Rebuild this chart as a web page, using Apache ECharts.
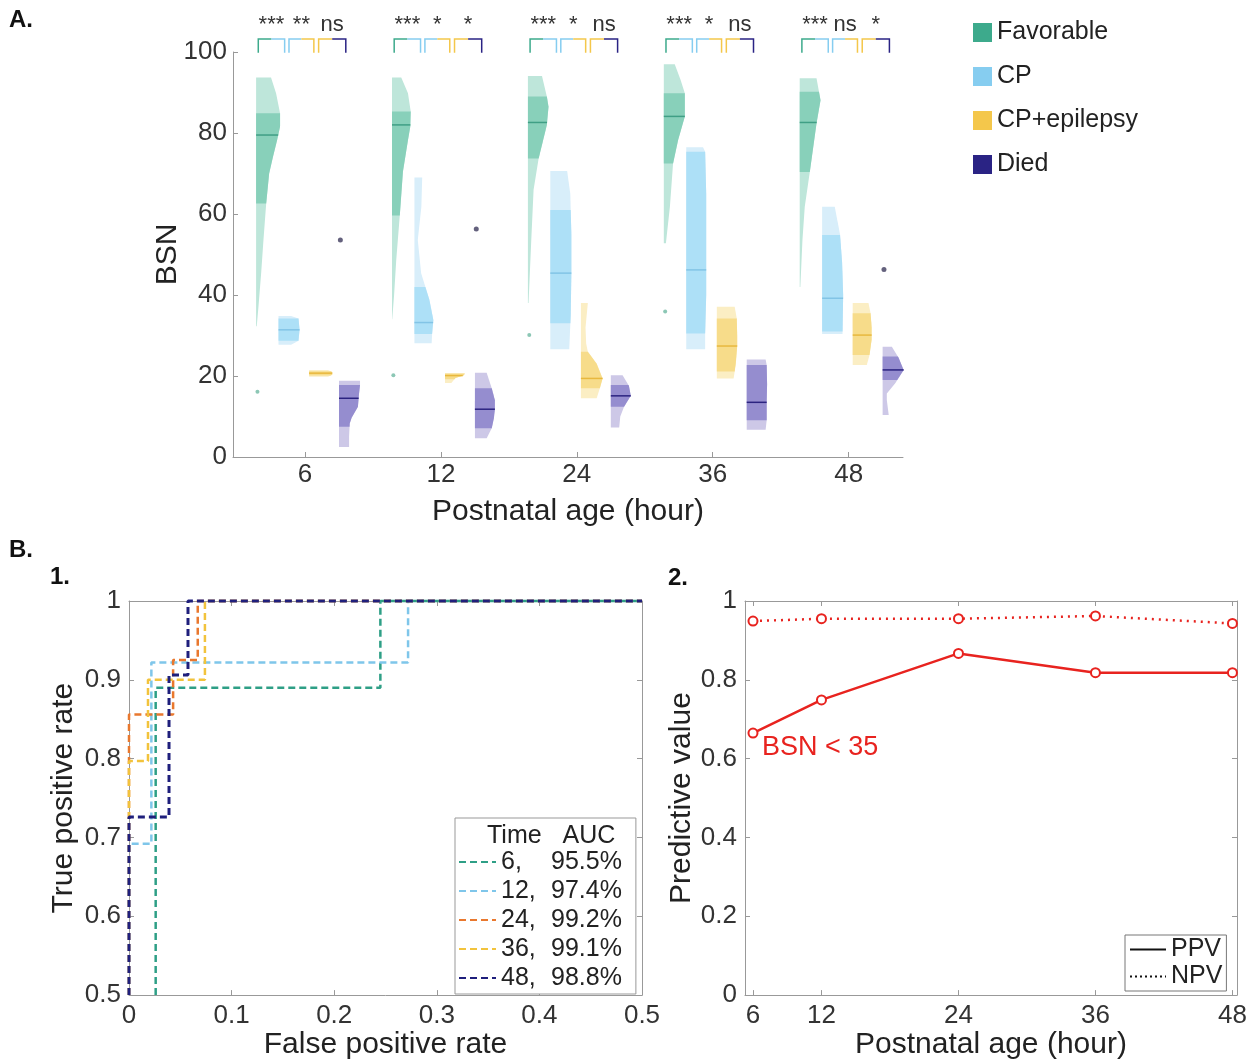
<!DOCTYPE html>
<html>
<head>
<meta charset="utf-8">
<script src="https://cdn.jsdelivr.net/npm/echarts@6/dist/echarts.min.js"></script>
<style>
html, body { margin: 0; padding: 0; background: #fff; }
#main { width: 1256px; height: 1061px; }
</style>
</head>
<body>
<div id="main"></div>
<script>
// ---- data ----
var hours = [6, 12, 24, 36, 48];
var groupNames = ['Favorable', 'CP', 'CP+epilepsy', 'Died'];

// [q1, median, q3] per postnatal age
var favBox  = [[62.6, 79.5, 84.9], [59.6, 82.0, 85.3], [73.7, 82.6, 89.0], [72.5, 84.1, 89.8], [70.4, 82.6, 90.2]];
var cpBox   = [[28.7, 31.4, 34.2], [30.4, 33.2, 42.0], [33.0, 45.4, 61.0], [30.5, 46.2, 75.4], [31.0, 39.2, 54.8]];
var cpeBox  = [[20.1, 20.7, 21.2], [19.2, 20.1, 20.6], [17.0, 19.4, 26.0], [21.1, 27.4, 34.2], [25.2, 30.1, 35.5]];
var diedBox = [[7.5, 14.5, 17.8], [7.1, 11.8, 17.0], [12.4, 15.1, 17.8], [9.1, 13.5, 22.7], [19.0, 21.5, 24.8]];

// half-violin outline, [BSN, relative density], top to bottom
var favShape = [
  [[93.7, 0.71], [89.8, 0.95], [84.9, 1.14], [81.6, 1.14], [78.3, 1.0], [74.1, 0.8], [70, 0.62], [62.6, 0.48], [53.6, 0.35], [45.4, 0.24], [37, 0.11], [32.3, 0.03]],
  [[93.7, 0.44], [89.8, 0.76], [85.3, 0.89], [81.6, 0.87], [78.3, 0.76], [70.5, 0.52], [59.6, 0.37], [48.5, 0.2], [40, 0.1], [34, 0.01]],
  [[94.1, 0.67], [89, 0.9], [86.5, 0.98], [82, 0.9], [73.7, 0.51], [66, 0.27], [53.6, 0.16], [38, 0.03]],
  [[97, 0.52], [93.1, 0.8], [89.8, 1.0], [84.1, 1.0], [78.3, 0.68], [72.5, 0.44], [61.8, 0.29], [52.8, 0.1]],
  [[93.5, 0.8], [88.1, 0.99], [82.4, 0.8], [70.4, 0.48], [61.8, 0.24], [53.6, 0.13], [42, 0.03]]
];
var cpShape = [
  [[34.8, 0.6], [34.2, 0.95], [31.4, 1.0], [28.7, 0.95], [27.7, 0.6]],
  [[69, 0.37], [61.8, 0.33], [53.6, 0.16], [45.4, 0.32], [38.8, 0.71], [33.8, 0.9], [30.4, 0.84], [28.1, 0.82]],
  [[70.6, 0.8], [65, 0.95], [55, 1.0], [45, 1.0], [35, 0.97], [26.6, 0.9]],
  [[76.5, 0.8], [75.4, 0.9], [65, 0.95], [50, 0.95], [40, 0.95], [30.5, 0.9], [26.6, 0.9]],
  [[61.8, 0.6], [55, 0.85], [48, 0.95], [40, 1.0], [30.4, 0.97]]
];
var cpeShape = [
  [[21.5, 0.9], [21, 1.1], [20.3, 1.1], [19.8, 0.9]],
  [[20.7, 0.95], [20.2, 0.9], [19.5, 0.5], [18.3, 0.3]],
  [[38, 0.33], [32, 0.22], [28, 0.25], [26, 0.33], [23, 0.75], [19.4, 1.03], [17, 0.9], [14.5, 0.75]],
  [[37.1, 0.85], [34.2, 0.95], [30, 0.97], [27.4, 0.97], [23, 0.9], [21.1, 0.85], [19.4, 0.8]],
  [[38, 0.75], [35.5, 0.85], [32, 0.9], [29, 0.9], [25.2, 0.8], [22.7, 0.67]]
];
var diedShape = [
  [[18.8, 1.0], [17.8, 1.0], [15.5, 0.95], [12.4, 0.9], [9.7, 0.6], [8.3, 0.51], [5, 0.48], [2.5, 0.48]],
  [[20.8, 0.56], [17, 0.8], [14, 0.95], [11.8, 0.95], [9.5, 0.9], [7.1, 0.8], [4.6, 0.56]],
  [[20.2, 0.56], [17.6, 0.86], [15.1, 0.95], [12.4, 0.63], [10, 0.45], [7.3, 0.4]],
  [[24.1, 0.9], [22.7, 0.95], [18, 0.97], [13.5, 0.95], [9.1, 0.95], [6.7, 0.9]],
  [[27.2, 0.44], [24.5, 0.76], [21.5, 1.0], [18.2, 0.6], [15.7, 0.2], [14.1, 0.2], [10.4, 0.29]]
];

// outliers: [age index, BSN]
var favOut = [[0, 16.1], [1, 20.2], [2, 30.1], [3, 35.9]];
var diedOut = [[0, 53.6], [1, 56.3], [4, 46.3]];

// Fav-CP, CP-CP+epilepsy, CP+epilepsy-Died
var sigLabels = [['***', '**', 'ns'], ['***', '*', '*'], ['***', '*', 'ns'], ['***', '*', 'ns'], ['***', 'ns', '*']];

// ROC curves [FPR, TPR]
var rocNames = ['6', '12', '24', '36', '48'];
var aucLabels = ['95.5%', '97.4%', '99.2%', '99.1%', '98.8%'];
var roc6  = [[0.026, 0.5], [0.026, 0.89], [0.245, 0.89], [0.245, 1], [0.5, 1]];
var roc12 = [[0, 0.5], [0, 0.692], [0.0218, 0.692], [0.0218, 0.922], [0.272, 0.922], [0.272, 1], [0.5, 1]];
var roc24 = [[0, 0.5], [0, 0.856], [0.043, 0.856], [0.043, 0.925], [0.067, 0.925], [0.067, 1], [0.5, 1]];
var roc36 = [[0, 0.5], [0, 0.797], [0.0185, 0.797], [0.0185, 0.9], [0.074, 0.9], [0.074, 1], [0.5, 1]];
var roc48 = [[0, 0.5], [0, 0.726], [0.039, 0.726], [0.039, 0.906], [0.0575, 0.906], [0.0575, 1], [0.5, 1]];

var ppv = [0.665, 0.749, 0.867, 0.818, 0.818];
var npv = [0.949, 0.955, 0.955, 0.962, 0.943];

// ---- style ----
var FONT = '"Liberation Sans", Arial, sans-serif';
var groupColor = ['#3daa8c', '#86cdf0', '#f4c74b', '#2a2384'];
var lightFill = ['#bee6da', '#d8eefa', '#fbeec4', '#cdc8e7'];
var darkFill = ['#88d0ba', '#ade0f7', '#f7dc8a', '#958dcf'];
var medianCol = ['#3f9f85', '#82c4e6', '#e8b83e', '#2b2380'];
var baseOff = [-0.36, -0.195, 0.03, 0.25];
var VW = 21 / 135.8;
var bracketOff = [[-0.344, -0.15], [-0.118, 0.065], [0.10, 0.30]];
var rocColor = ['#2e9f86', '#7fc6ea', '#e9782e', '#f2c33c', '#1f1f7c'];
var RED = '#e8231f';

var boxes = [favBox, cpBox, cpeBox, diedBox];
var shapes = [favShape, cpShape, cpeShape, diedShape];

function widthAt(shape, v) {
  if (v >= shape[0][0]) return shape[0][1];
  for (var i = 0; i < shape.length - 1; i++) {
    var a = shape[i], b = shape[i + 1];
    if (v <= a[0] && v >= b[0]) {
      return a[1] + (b[1] - a[1]) * (a[0] - v) / (a[0] - b[0]);
    }
  }
  return shape[shape.length - 1][1];
}

function violin(gi) {
  return function (params, api) {
    var t = params.dataIndex;
    var shape = shapes[gi][t], box = boxes[gi][t];
    var b = t + baseOff[gi];
    function pt(v, w) { return api.coord([b + w * VW, v]); }
    var outer = [pt(shape[0][0], 0)];
    shape.forEach(function (p) { outer.push(pt(p[0], p[1])); });
    outer.push(pt(shape[shape.length - 1][0], 0));
    var inner = [pt(box[2], 0), pt(box[2], widthAt(shape, box[2]))];
    shape.forEach(function (p) { if (p[0] < box[2] && p[0] > box[0]) inner.push(pt(p[0], p[1])); });
    inner.push(pt(box[0], widthAt(shape, box[0])), pt(box[0], 0));
    var m0 = pt(box[1], 0), m1 = pt(box[1], widthAt(shape, box[1]));
    return {
      type: 'group',
      children: [
        { type: 'polygon', shape: { points: outer }, style: { fill: lightFill[gi] } },
        { type: 'polygon', shape: { points: inner }, style: { fill: darkFill[gi] } },
        { type: 'line', shape: { x1: m0[0], y1: m0[1], x2: m1[0], y2: m1[1] }, style: { stroke: medianCol[gi], lineWidth: 1.5 } }
      ]
    };
  };
}

function sigBracket(params, api) {
  var t = api.value(0), k = api.value(1);
  var o = bracketOff[k];
  var L = api.coord([t + o[0], 99.8]), LT = api.coord([t + o[0], 103.2]);
  var R = api.coord([t + o[1], 99.8]), RT = api.coord([t + o[1], 103.2]);
  var mid = (LT[0] + RT[0]) / 2;
  return {
    type: 'group',
    children: [
      { type: 'polyline', shape: { points: [L, LT, [mid, LT[1]]] }, style: { stroke: groupColor[k], lineWidth: 1.5, fill: null } },
      { type: 'polyline', shape: { points: [[mid, RT[1]], RT, R] }, style: { stroke: groupColor[k + 1], lineWidth: 1.5, fill: null } },
      { type: 'text', x: mid, y: LT[1] - 3, style: { text: sigLabels[t][k], textAlign: 'center', textVerticalAlign: 'bottom', fontSize: 22, fontFamily: FONT, fill: '#333' } }
    ]
  };
}

var series = [];
groupNames.forEach(function (name, gi) {
  series.push({
    name: name, type: 'custom', xAxisIndex: 0, yAxisIndex: 0,
    itemStyle: { color: groupColor[gi] },
    renderItem: violin(gi),
    encode: { x: 0, y: 1 },
    data: hours.map(function (h, i) { return [i, boxes[gi][i][1]]; })
  });
});
var sigData = [];
sigLabels.forEach(function (row, t) { row.forEach(function (s, k) { sigData.push([t, k]); }); });
series.push({
  name: 'sig', type: 'custom', xAxisIndex: 0, yAxisIndex: 0, renderItem: sigBracket,
  encode: { x: 0, y: 1 }, data: sigData, silent: true
});
series.push({
  name: 'favOut', type: 'scatter', xAxisIndex: 0, yAxisIndex: 0, symbolSize: 4,
  itemStyle: { color: '#6fb9a3' },
  data: favOut.map(function (d) { return [d[0] + baseOff[0] + 0.01, d[1]]; })
});
series.push({
  name: 'diedOut', type: 'scatter', xAxisIndex: 0, yAxisIndex: 0, symbolSize: 5,
  itemStyle: { color: '#3d3a5c' },
  data: diedOut.map(function (d) { return [d[0] + baseOff[3] + 0.01, d[1]]; })
});

[roc6, roc12, roc24, roc36, roc48].forEach(function (d, i) {
  series.push({
    name: rocNames[i], type: 'line', xAxisIndex: 1, yAxisIndex: 1, data: d,
    symbol: 'none', clip: false,
    lineStyle: { color: rocColor[i], width: i === 4 ? 3 : 2.5, type: [7, 4] },
    itemStyle: { color: rocColor[i] }
  });
});

series.push({
  name: 'PPV', type: 'line', xAxisIndex: 3, yAxisIndex: 3, clip: false,
  data: hours.map(function (h, i) { return [h, ppv[i]]; }),
  symbol: 'emptyCircle', symbolSize: 9,
  itemStyle: { color: RED, borderWidth: 2 },
  lineStyle: { color: RED, width: 2.5 }
});
series.push({
  name: 'NPV', type: 'line', xAxisIndex: 3, yAxisIndex: 3, clip: false,
  data: hours.map(function (h, i) { return [h, npv[i]]; }),
  symbol: 'emptyCircle', symbolSize: 9,
  itemStyle: { color: RED, borderWidth: 2 },
  lineStyle: { color: RED, width: 2.5, type: [2, 5] }
});

var tickLabel = { fontSize: 26, color: '#333', fontFamily: FONT };
var nameStyle = { fontSize: 30, color: '#222', fontFamily: FONT };
var gray = { onZero: false, lineStyle: { color: '#999' } };

function boxAxis(base, pos) {
  return Object.assign({}, base, {
    position: pos, name: '', axisLabel: { show: false }
  });
}

var b1x = {
  gridIndex: 1, type: 'value', min: 0, max: 0.5, interval: 0.1,
  axisLine: gray, axisTick: { inside: true, length: 5, lineStyle: { color: '#999' } },
  axisLabel: Object.assign({ margin: 8 }, tickLabel), splitLine: { show: false },
  name: 'False positive rate', nameLocation: 'middle', nameGap: 32, nameTextStyle: nameStyle
};
var b1y = {
  gridIndex: 1, type: 'value', min: 0.5, max: 1, interval: 0.1,
  axisLine: gray, axisTick: { inside: true, length: 5, lineStyle: { color: '#999' } },
  axisLabel: Object.assign({ margin: 8 }, tickLabel), splitLine: { show: false },
  name: 'True positive rate', nameLocation: 'middle', nameGap: 50, nameTextStyle: nameStyle
};
var b2x = {
  gridIndex: 2, type: 'value', min: 5.3, max: 48.4,
  axisLine: gray,
  axisTick: { inside: true, length: 5, customValues: hours, lineStyle: { color: '#999' } },
  axisLabel: Object.assign({ margin: 8, customValues: hours }, tickLabel), splitLine: { show: false },
  name: 'Postnatal age (hour)', nameLocation: 'middle', nameGap: 32, nameTextStyle: nameStyle
};
var b2y = {
  gridIndex: 2, type: 'value', min: 0, max: 1, interval: 0.2,
  axisLine: gray, axisTick: { inside: true, length: 5, lineStyle: { color: '#999' } },
  axisLabel: Object.assign({ margin: 8 }, tickLabel), splitLine: { show: false },
  name: 'Predictive value', nameLocation: 'middle', nameGap: 44, nameTextStyle: nameStyle
};

var option = {
  backgroundColor: '#fff',
  animation: false,
  textStyle: { fontFamily: FONT },
  grid: [
    { left: 233, top: 52, width: 670, height: 405 },
    { left: 129, top: 601, width: 513, height: 397 },
    { left: 745, top: 601, width: 492, height: 397 }
  ],
  xAxis: [
    {
      gridIndex: 0, type: 'value', min: -0.53, max: 4.40,
      axisLine: gray,
      axisTick: { inside: true, length: 5, customValues: [0, 1, 2, 3, 4], lineStyle: { color: '#999' } },
      axisLabel: Object.assign({ margin: 5, customValues: [0, 1, 2, 3, 4], formatter: function (v) { return hours[Math.round(v)]; } }, tickLabel),
      splitLine: { show: false },
      name: 'Postnatal age (hour)', nameLocation: 'middle', nameGap: 40, nameTextStyle: nameStyle
    },
    b1x, boxAxis(b1x, 'top'), b2x, boxAxis(b2x, 'top')
  ],
  yAxis: [
    {
      gridIndex: 0, type: 'value', min: 0, max: 100, interval: 20,
      axisLine: { show: true, onZero: false, lineStyle: { color: '#999' } },
      axisTick: { show: true, inside: true, length: 5, lineStyle: { color: '#999' } },
      axisLabel: Object.assign({ margin: 6 }, tickLabel), splitLine: { show: false },
      name: 'BSN', nameLocation: 'middle', nameGap: 50, nameMoveOverlap: false, nameTextStyle: nameStyle
    },
    b1y, boxAxis(b1y, 'right'), b2y, boxAxis(b2y, 'right')
  ],
  legend: [
    {
      data: groupNames, orient: 'vertical', left: 968, top: 15, icon: 'rect',
      itemWidth: 19, itemHeight: 19, itemGap: 19, selectedMode: false,
      textStyle: { fontSize: 25, color: '#222', fontFamily: FONT }
    },
    {
      data: rocNames, orient: 'vertical', left: 455, top: 818, selectedMode: false,
      padding: [31, 14, 3, 3], itemWidth: 37, itemHeight: 12, itemGap: 3,
      borderColor: '#999', borderWidth: 1, backgroundColor: '#fff',
      itemStyle: { opacity: 0 },
      formatter: function (name) {
        return '{a|' + name + ',}{b|' + aucLabels[rocNames.indexOf(name)] + '}';
      },
      textStyle: {
        fontSize: 25, color: '#222', fontFamily: FONT, lineHeight: 26,
        rich: { a: { width: 50, fontSize: 25, fontFamily: FONT }, b: { fontSize: 25, fontFamily: FONT } }
      }
    },
    {
      data: [
        { name: 'PPV', lineStyle: { color: '#111', width: 2, type: 'solid' } },
        { name: 'NPV', lineStyle: { color: '#111', width: 2, type: [2, 3] } }
      ],
      orient: 'vertical', left: 1125, top: 935, selectedMode: false,
      padding: [2, 4, 2, 4], itemWidth: 36, itemHeight: 10, itemGap: 2,
      borderColor: '#777', borderWidth: 1, backgroundColor: '#fff',
      itemStyle: { opacity: 0 },
      textStyle: { fontSize: 25, color: '#222', fontFamily: FONT, lineHeight: 22 }
    }
  ],
  graphic: [
    { type: 'text', left: 9, top: 8, style: { text: 'A.', fontSize: 24, fontWeight: 'bold', fill: '#111', fontFamily: FONT } },
    { type: 'text', left: 9, top: 538, style: { text: 'B.', fontSize: 24, fontWeight: 'bold', fill: '#111', fontFamily: FONT } },
    { type: 'text', left: 50, top: 565, style: { text: '1.', fontSize: 24, fontWeight: 'bold', fill: '#111', fontFamily: FONT } },
    { type: 'text', left: 668, top: 566, style: { text: '2.', fontSize: 24, fontWeight: 'bold', fill: '#111', fontFamily: FONT } },
    { type: 'text', left: 487, top: 824, z: 100, style: { text: 'Time   AUC', fontSize: 25, fill: '#222', fontFamily: FONT } },
    { type: 'text', left: 762, top: 734, style: { text: 'BSN < 35', fontSize: 27, fill: RED, fontFamily: FONT } }
  ],
  series: series
};

var chart = echarts.init(document.getElementById('main'), null, { renderer: 'canvas' });
chart.setOption(option);
</script>
</body>
</html>
